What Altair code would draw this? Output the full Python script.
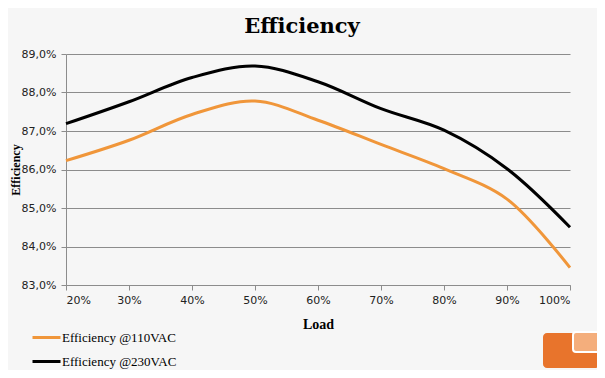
import altair as alt
import pandas as pd

# ---- data ----
loads = [20, 30, 40, 50, 60, 70, 80, 90, 100]
eff_110 = [86.23, 86.76, 87.43, 87.78, 87.28, 86.65, 86.02, 85.23, 83.45]
eff_230 = [87.19, 87.76, 88.39, 88.69, 88.28, 87.58, 87.02, 86.02, 84.50]
series_names = ["Efficiency @110VAC", "Efficiency @230VAC"]
series_colors = ["#F0963A", "#000000"]
y_ticks = [83, 84, 85, 86, 87, 88, 89]

rows = []
for name, vals in zip(series_names, [eff_110, eff_230]):
    for l, v in zip(loads, vals):
        rows.append({"load": l, "eff": v, "series": name})
df = pd.DataFrame(rows)

GRID = "#8c8c8c"

lines = alt.Chart(df).mark_line(strokeWidth=3, interpolate="catmull-rom").encode(
    x=alt.X(
        "load:Q",
        scale=alt.Scale(domain=[20, 100], nice=False, zero=False),
        axis=alt.Axis(
            values=loads,
            labelExpr="datum.value + '%'",
            title="Load",
            grid=False,
            tickSize=5,
            tickColor=GRID,
            domainColor=GRID,
            labelFont="DejaVu Sans",
            labelFontSize=11,
            labelColor="#222222",
            labelPadding=4,
            titleFont="Liberation Serif",
            titleFontSize=14,
            titleFontWeight="bold",
            titleColor="#000000",
            titlePadding=12,
        ),
    ),
    y=alt.Y(
        "eff:Q",
        scale=alt.Scale(domain=[83, 89], nice=False, zero=False),
        axis=alt.Axis(
            values=y_ticks,
            labelExpr="replace(format(datum.value, '.1f'), '.', ',') + '%'",
            title="Efficiency",
            grid=True,
            gridColor=GRID,
            gridWidth=1,
            tickSize=5,
            tickColor=GRID,
            domainColor=GRID,
            labelFont="DejaVu Sans",
            labelFontSize=11,
            labelColor="#222222",
            labelPadding=5,
            titleFont="Liberation Serif",
            titleFontSize=12,
            titleFontWeight="bold",
            titleColor="#000000",
            titlePadding=-1,
        ),
    ),
    color=alt.Color(
        "series:N",
        scale=alt.Scale(domain=series_names, range=series_colors),
        legend=alt.Legend(
            title=None,
            orient="none",
            legendX=-35,
            legendY=268,
            symbolType="stroke",
            symbolSize=784,
            symbolStrokeWidth=3,
            labelFont="Liberation Serif",
            labelFontSize=13,
            labelColor="#000000",
            labelOffset=0,
            rowPadding=1,
        ),
    ),
)

# decorative logo (bottom right)
one = pd.DataFrame({"k": [0]})
logo_main = alt.Chart(one).mark_rect(color="#E8742C", cornerRadius=4).encode(
    x=alt.value(477), x2=alt.value(534), y=alt.value(279), y2=alt.value(314)
)
logo_light = alt.Chart(one).mark_rect(
    color="#F4AE7C", stroke="#ffffff", strokeWidth=2, cornerRadius=3
).encode(x=alt.value(507), x2=alt.value(535), y=alt.value(278), y2=alt.value(298))

chart = alt.layer(lines, logo_main, logo_light).properties(
    width=504,
    height=231,
    autosize=alt.AutoSizeParams(type="none"),
    padding={"left": 58, "top": 46, "right": 27, "bottom": 85},
    background="#f6f6f6",
    title=alt.Title(
        "Efficiency",
        font="DejaVu Serif",
        fontSize=21,
        fontWeight="bold",
        color="#000000",
        anchor="middle",
        frame="group",
        dx=-16,
        offset=11,
    ),
).configure_view(stroke=None)

chart.save("out.html", embed_options={"renderer": "svg", "actions": False})
